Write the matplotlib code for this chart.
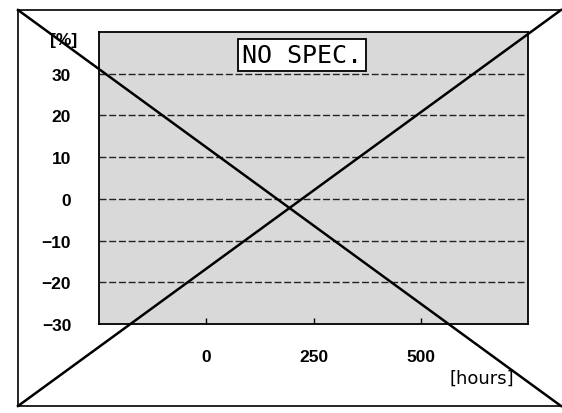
import matplotlib
matplotlib.use('Agg')
import matplotlib.pyplot as plt
from matplotlib.lines import Line2D

# Axis setup
x_limits = [-250, 750]
x_ticks = [0, 250, 500]
y_limits = [-30, 40]
y_ticks = [-30, -20, -10, 0, 10, 20, 30]
grid_levels = [-20, -10, 0, 10, 20, 30]
message = 'NO SPEC.'

W, H = 562, 414
fig = plt.figure(figsize=(W / 100, H / 100), dpi=100)

# Outer frame (left, top, bottom)
frame = fig.add_axes([18 / W, 7 / H, 543 / W, 396 / H], zorder=0)
frame.set_xticks([])
frame.set_yticks([])
frame.spines['right'].set_visible(False)
for s in ['left', 'top', 'bottom']:
    frame.spines[s].set_linewidth(1.2)
frame.patch.set_alpha(0)

# Main plot area
ax = fig.add_axes([99 / W, (H - 325) / H, 429 / W, 292 / H], zorder=1)
ax.set_facecolor('#d9d9d9')
ax.set_xlim(x_limits)
ax.set_ylim(y_limits)
for lvl in grid_levels:
    ax.axhline(lvl, color='#222222', linestyle=(0, (5, 2)), linewidth=1.0)

ax.set_xticks(x_ticks)
ax.set_yticks(y_ticks)
tick_font = dict(family='Liberation Sans', weight='bold', size=12.5)
ax.set_xticklabels([str(v) for v in x_ticks], fontdict=tick_font)
ax.set_yticklabels([str(v).replace('-', '\u2212') for v in y_ticks], fontdict=tick_font)
ax.tick_params(axis='x', direction='in', length=4, width=1, pad=18)
ax.tick_params(axis='y', length=0, pad=20)
for s in ax.spines.values():
    s.set_linewidth(1.3)

ax.text(0.473, 0.963, message, transform=ax.transAxes, ha='center', va='top',
        family='DejaVu Sans Mono', fontsize=18,
        bbox=dict(facecolor='white', edgecolor='black', linewidth=1.3,
                  boxstyle='square,pad=0.17'))

fig.text(64 / W, 1 - 41 / H, '[%]', ha='center', va='center',
         family='Liberation Sans', weight='bold', fontsize=12.5)
fig.text(482 / W, 1 - 379 / H, '[hours]', ha='center', va='center',
         family='Liberation Sans Narrow', fontsize=13)

# Big cross over the whole frame
for ys in ([1, 0], [0, 1]):
    fig.add_artist(Line2D([0, 1], ys, transform=frame.transAxes,
                          color='black', linewidth=1.8, zorder=5))

fig.savefig('out.png', dpi=100)
